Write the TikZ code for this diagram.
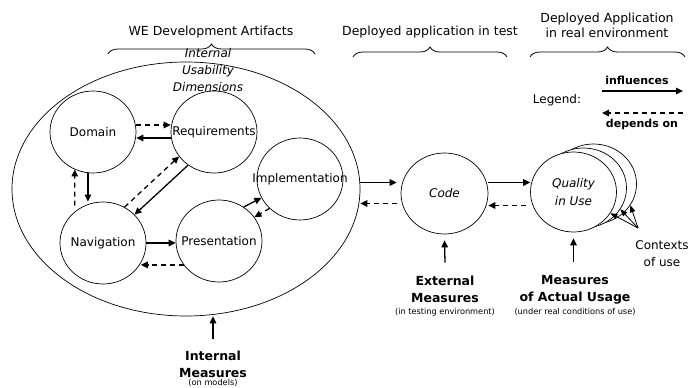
\documentclass[tikz,border=0pt]{standalone}
\usepackage{fontspec}
\setmainfont{DejaVu Sans}
\usetikzlibrary{arrows.meta,shapes.geometric,decorations.pathreplacing}
\begin{document}
\begin{tikzpicture}[x=1pt,y=-1pt,
  unit/.style={ellipse,draw,line width=0.7pt,inner sep=0pt,minimum width=86pt,minimum height=82pt,font=\fontsize{12}{14}\selectfont,align=center},
  back/.style={unit,fill=white,minimum width=86pt,minimum height=80pt},
  inf/.style={line width=1.3pt,-{Triangle[length=7pt,width=6.5pt]}},
  dep/.style={inf,dash pattern=on 5pt off 4pt},
  thinarr/.style={line width=0.8pt,-{Triangle[length=7pt,width=5.5pt]}},
  hd/.style={font=\fontsize{12.5}{15}\selectfont,align=center},
  txt/.style={font=\fontsize{12}{17}\selectfont,align=center},
  bm/.style={font=\fontsize{12.5}{17}\selectfont\bfseries,align=center},
  sm/.style={font=\fontsize{8.2}{10}\selectfont},
  itx/.style={font=\fontsize{12}{17}\selectfont\itshape,align=center},
  brc/.style={decorate,decoration={brace,amplitude=10pt},line width=0.8pt}
]
\useasboundingbox (0,0) rectangle (688,388);

% headings and braces
\node[hd] (h1) at (211,32) {WE Development Artifacts};
\node[hd] (h2) at (430,32) {Deployed application in test};
\node[hd] (h3) at (607,25) {Deployed Application\\in real environment};
\draw[brc] (108,54) -- (315,54);
\draw[brc] (353,57) -- (507,57);
\draw[brc] (530,57) -- (685,57);

% big ellipse
\node[ellipse,draw,line width=0.7pt,inner sep=0pt,minimum width=348pt,minimum height=254pt] (we) at (186,189) {};
\node[itx] (iud) at (208,70) {Internal\\Usability\\Dimensions};

% artifact circles
\node[unit] (dom) at (93,132) {\makebox[0pt]{Domain}};
\node[unit] (req) at (214,132) {\makebox[0pt]{Requirements}};
\node[unit] (imp) at (300,179) {\makebox[0pt]{Implementation}};
\node[unit] (nav) at (103,243) {\makebox[0pt]{Navigation}};
\node[unit] (pre) at (219,241) {\makebox[0pt]{Presentation}};

\draw[dep] ([yshift=7pt]dom.east) -- ([yshift=7pt]req.west);
\draw[inf] ([yshift=-6pt]req.west) -- ([yshift=-6pt]dom.east);
\draw[inf] (dom.-97) -- (dom.-97 |- nav.north);
\draw[dep] ([yshift=6pt]nav.132) -- (dom.-116);
\draw[dep] (nav.59) -- (req.-145);
\draw[inf] (req.-128) -- (nav.42);
\draw[inf] (nav.east) -- (nav.east -| pre.west);
\draw[dep] (pre.-146) -- (pre.-146 -| nav.-28);
\draw[inf] (pre.54) -- (imp.-154);
\draw[dep] (imp.-136) -- (pre.34);

% code
\node[unit,minimum width=87pt,minimum height=81pt] (code) at (444.5,193.5) {\itshape Code};
\draw[inf,shorten >=4pt] ([yshift=11pt]code.west -| we.east) -- ([yshift=11pt]code.west);
\draw[dep,shorten <=4pt] ([yshift=-10pt]code.west) -- ([yshift=-10pt]code.west -| we.east);

% quality in use
\node[back] (q2) at (593.5,184) {};
\node[back] (q1) at (583.5,188) {};
\node[back,font=\fontsize{12}{18}\selectfont\itshape] (q0) at (573.5,192) {Quality\\in Use};
\draw[inf] ([yshift=11pt]code.east) -- ([yshift=11pt]code.east -| q0.west);
\draw[dep,shorten <=4pt] ([yshift=-12pt]code.east -| q0.west) -- ([yshift=-12pt]code.east);

% contexts
\coordinate (cp) at (638,228);
\draw[thinarr] (cp) -- (q0.-30);
\draw[thinarr] (cp) -- (q1.-30);
\draw[thinarr] (cp) -- (q2.-30);
\node[txt] (ctx) at (662,254) {Contexts\\of use};

% measures
\node[bm] (ext) at (445,289.5) {External\\Measures};
\node[sm] (exts) at (445,312) {(in testing environment)};
\draw[inf] ([yshift=10pt]ext.north) -- ([yshift=-6pt]code.south);
\node[bm] (act) at (575,289.5) {Measures\\of Actual Usage};
\node[sm] (acts) at (575,312) {(under real conditions of use)};
\draw[inf] ([yshift=10pt]act.north -| q0.south) -- ([yshift=-6pt]q0.south);
\node[bm] (intm) at (213,364) {Internal\\Measures};
\node[sm] (intms) at (213,382.5) {(on models)};
\draw[inf] ([yshift=8pt]intm.north) -- (intm.north |- we.south);

% legend
\node[txt] (leg) at (557,100) {Legend:};
\coordinate (la) at (602,91);
\coordinate (lb) at (683,91);
\draw[inf] (la) -- (lb);
\node[font=\fontsize{11}{13}\selectfont\bfseries] (linf) at (637,80) {influences};
\coordinate (lc) at (683,113);
\coordinate (ld) at (602,113);
\draw[dep] (lc) -- (ld);
\node[font=\fontsize{11}{13}\selectfont\bfseries] (ldep) at (642,124) {depends on};
\end{tikzpicture}
\end{document}
